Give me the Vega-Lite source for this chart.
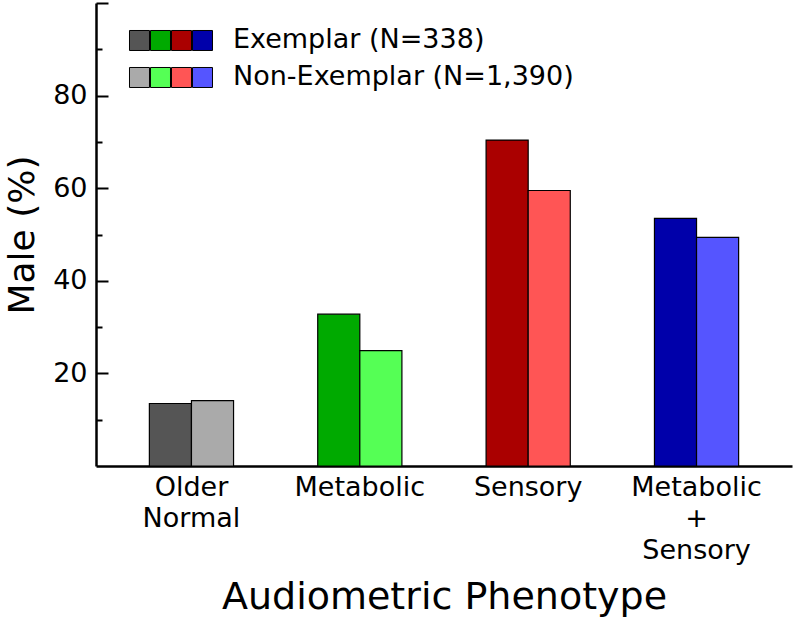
{
  "$schema": "https://vega.github.io/schema/vega-lite/v6.json",
  "width": 696,
  "height": 463,
  "autosize": {"type": "none"},
  "padding": {"left": 96, "top": 3, "right": 1, "bottom": 155},
  "background": "white",
  "config": {"view": {"stroke": null}, "font": "DejaVu Sans"},
  "datasets": {
    "bars": [
      {"phenotype": "Older Normal", "group": "Exemplar", "key": "Older Normal / Exemplar", "male_pct": 13.5},
      {"phenotype": "Older Normal", "group": "Non-Exemplar", "key": "Older Normal / Non-Exemplar", "male_pct": 14.1},
      {"phenotype": "Metabolic", "group": "Exemplar", "key": "Metabolic / Exemplar", "male_pct": 32.8},
      {"phenotype": "Metabolic", "group": "Non-Exemplar", "key": "Metabolic / Non-Exemplar", "male_pct": 24.9},
      {"phenotype": "Sensory", "group": "Exemplar", "key": "Sensory / Exemplar", "male_pct": 70.4},
      {"phenotype": "Sensory", "group": "Non-Exemplar", "key": "Sensory / Non-Exemplar", "male_pct": 59.5},
      {"phenotype": "Metabolic + Sensory", "group": "Exemplar", "key": "Metabolic + Sensory / Exemplar", "male_pct": 53.5},
      {"phenotype": "Metabolic + Sensory", "group": "Non-Exemplar", "key": "Metabolic + Sensory / Non-Exemplar", "male_pct": 49.4}
    ],
    "legendSwatches": [
      {"row": 0, "swatch": 0, "key": "Older Normal / Exemplar"},
      {"row": 0, "swatch": 1, "key": "Metabolic / Exemplar"},
      {"row": 0, "swatch": 2, "key": "Sensory / Exemplar"},
      {"row": 0, "swatch": 3, "key": "Metabolic + Sensory / Exemplar"},
      {"row": 1, "swatch": 0, "key": "Older Normal / Non-Exemplar"},
      {"row": 1, "swatch": 1, "key": "Metabolic / Non-Exemplar"},
      {"row": 1, "swatch": 2, "key": "Sensory / Non-Exemplar"},
      {"row": 1, "swatch": 3, "key": "Metabolic + Sensory / Non-Exemplar"}
    ],
    "legendLabels": [
      {"row": 0, "label": "Exemplar (N=338)"},
      {"row": 1, "label": "Non-Exemplar (N=1,390)"}
    ]
  },
  "layer": [
    {
      "data": {"name": "bars"},
      "mark": {"type": "bar", "stroke": "black", "strokeWidth": 1.2},
      "encoding": {
        "x": {
          "field": "phenotype",
          "type": "nominal",
          "sort": ["Older Normal", "Metabolic", "Sensory", "Metabolic + Sensory"],
          "scale": {"paddingInner": 0.5, "paddingOuter": 0.317},
          "axis": {
            "ticks": false,
            "domainColor": "black",
            "domainWidth": 2.5,
            "labelAngle": 0,
            "labelFontSize": 27,
            "labelColor": "black",
            "labelPadding": 8,
            "labelLineHeight": 31.5,
            "labelExpr": "datum.value == 'Older Normal' ? ['Older', 'Normal'] : datum.value == 'Metabolic + Sensory' ? ['Metabolic', '+', 'Sensory'] : datum.label",
            "title": "Audiometric Phenotype",
            "titleFontSize": 38,
            "titleFontWeight": "normal",
            "titleColor": "black",
            "titleY": 142,
            "titleBaseline": "alphabetic"
          }
        },
        "xOffset": {
          "field": "group",
          "type": "nominal",
          "sort": ["Exemplar", "Non-Exemplar"],
          "scale": {"paddingInner": 0, "paddingOuter": 0}
        },
        "y": {
          "field": "male_pct",
          "type": "quantitative",
          "scale": {"domain": [0, 100], "nice": false},
          "axis": {
            "values": [10, 20, 30, 40, 50, 60, 70, 80, 90, 100],
            "labelExpr": "datum.value % 20 === 0 && datum.value < 100 ? datum.label : ''",
            "tickSize": {"condition": {"test": "datum.value % 20 === 0", "value": -12}, "value": -6},
            "tickColor": "black",
            "tickWidth": 2,
            "domainColor": "black",
            "domainWidth": 2.5,
            "grid": false,
            "labelFontSize": 27,
            "labelColor": "black",
            "labelPadding": 21,
            "title": "Male (%)",
            "titleFontSize": 36,
            "titleFontWeight": "normal",
            "titleColor": "black",
            "titleX": -63,
            "titleBaseline": "alphabetic"
          }
        },
        "color": {
          "field": "key",
          "type": "nominal",
          "scale": {
            "domain": [
              "Older Normal / Exemplar", "Metabolic / Exemplar", "Sensory / Exemplar", "Metabolic + Sensory / Exemplar",
              "Older Normal / Non-Exemplar", "Metabolic / Non-Exemplar", "Sensory / Non-Exemplar", "Metabolic + Sensory / Non-Exemplar"
            ],
            "range": ["#555555", "#00aa00", "#aa0000", "#0000aa", "#aaaaaa", "#55ff55", "#ff5555", "#5555ff"]
          },
          "legend": null
        }
      }
    },
    {
      "data": {"name": "legendSwatches"},
      "mark": {"type": "point", "shape": "square", "filled": true, "size": 400, "stroke": "black", "strokeWidth": 1, "opacity": 1},
      "encoding": {
        "x": {"field": "swatch", "type": "quantitative", "scale": {"domain": [-2.0714, 31.0714], "nice": false, "zero": false}, "axis": null},
        "y": {"field": "row", "type": "quantitative", "scale": {"domain": [-1.0135, 11.5], "reverse": true, "nice": false, "zero": false}, "axis": null},
        "color": {"field": "key", "type": "nominal", "legend": null}
      }
    },
    {
      "data": {"name": "legendLabels"},
      "mark": {"type": "text", "align": "left", "baseline": "middle", "dx": 30.5, "fontSize": 27, "font": "DejaVu Sans", "color": "black"},
      "encoding": {
        "x": {"datum": 3, "type": "quantitative", "scale": {"domain": [-2.0714, 31.0714], "nice": false, "zero": false}, "axis": null},
        "y": {"field": "row", "type": "quantitative", "scale": {"domain": [-1.0135, 11.5], "reverse": true, "nice": false, "zero": false}, "axis": null},
        "text": {"field": "label"}
      }
    }
  ],
  "resolve": {"scale": {"x": "independent", "y": "independent"}}
}
